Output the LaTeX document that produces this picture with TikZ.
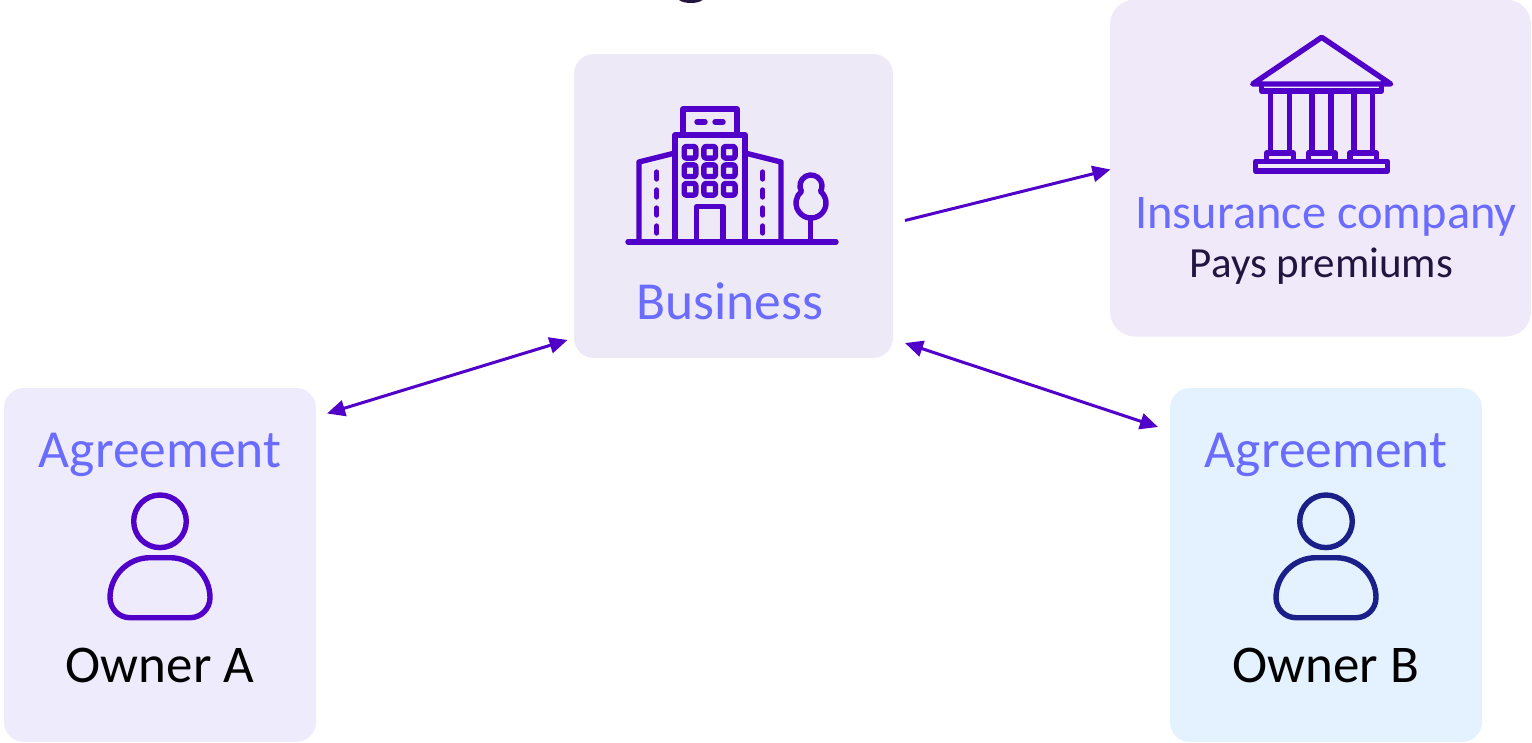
\documentclass[tikz,border=0pt]{standalone}
\usepackage{fontspec}
\setmainfont{Carlito}
\usetikzlibrary{arrows.meta}
\definecolor{icon}{HTML}{5000C8}
\definecolor{iconb}{HTML}{1B2088}
\definecolor{bizfill}{HTML}{EEE9F7}
\definecolor{insfill}{HTML}{F0E9F9}
\definecolor{afill}{HTML}{EEEBFD}
\definecolor{bfill}{HTML}{E4F1FE}
\definecolor{head}{HTML}{6A6BFF}
\definecolor{dark}{HTML}{221540}
\tikzset{
  card/.style={inner sep=0pt,outer sep=0pt,rounded corners=20pt,draw=none},
  headtxt/.style={anchor=base,text=head,font=\fontsize{53.5}{60}\selectfont,inner sep=0pt},
  instxt/.style={anchor=base,text=head,font=\fontsize{48.4}{55}\selectfont,inner sep=0pt},
  ownertxt/.style={anchor=base,text=black,font=\fontsize{53}{60}\selectfont,inner sep=0pt},
  subtxt/.style={anchor=base,text=dark,font=\fontsize{43}{50}\selectfont,inner sep=0pt},
  ic/.style={draw=#1,line width=5.4pt,line join=round,line cap=round},
  ic/.default=icon,
  flow/.style={draw=icon,line width=3pt,-{Triangle[length=18pt,width=16pt]}},
  flowboth/.style={draw=icon,line width=3pt,{Triangle[length=18pt,width=16pt]}-{Triangle[length=18pt,width=16pt]}},
}
\newcommand{\personicon}[2]{%
  \begin{scope}[shift={(#1,0)}]
    \draw[ic=#2] (160,521.3) circle[radius=26.3pt];
    \draw[ic=#2] (150,557.7) -- (170,557.7) arc[start angle=90,end angle=0,radius=40pt]
      arc[start angle=0,end angle=-90,radius=20pt] -- (130,617.7)
      arc[start angle=-90,end angle=-180,radius=20pt]
      arc[start angle=180,end angle=90,radius=40pt] -- cycle;
  \end{scope}}
\begin{document}
\begin{tikzpicture}[x=1pt,y=-1pt]
\useasboundingbox (0,0) rectangle (1532,742);
% clipped title remnant
\fill[dark] (679,0) .. controls (684,4) and (698,4) .. (702.5,0) -- cycle;
% cards
\node[card,fill=bizfill,minimum width=319pt,minimum height=304pt] (biz) at (733.5,206) {};
\node[card,fill=insfill,rounded corners=25pt,minimum width=421pt,minimum height=337pt] (ins) at (1320.5,168) {};
\node[card,fill=afill,minimum width=312pt,minimum height=354pt] (ownA) at (160,565) {};
\node[card,fill=bfill,minimum width=312pt,minimum height=354pt] (ownB) at (1326,565) {};
% texts
\node[headtxt] (tbiz) at (730,319) {Business};
\node[instxt] (tins) at (1326,228) {Insurance company};
\node[subtxt] (tpay) at (1321.5,277) {Pays premiums};
\node[headtxt] (tagA) at (160,467) {Agreement};
\node[headtxt] (tagB) at (1326,467) {Agreement};
\node[ownertxt] (tA) at (160,682) {Owner A};
\node[ownertxt] (tB) at (1326,682) {Owner B};
% building icon
\draw[ic] (628,242) -- (836,242);
\draw[ic] (675,242) -- (675,135) -- (745,135) -- (745,242);
\draw[ic] (683,135) -- (683,109) -- (737,109) -- (737,135);
\draw[ic] (697,122) -- (705,122) (715,122) -- (723,122);
\draw[ic] (675,153) -- (639,162) -- (639,242);
\draw[ic] (745,153) -- (781,162) -- (781,242);
\draw[ic] (696.7,242) -- (696.7,206.7) -- (723,206.7) -- (723,242);
\foreach \wx in {690,709.7,729.3}
  \foreach \wy in {152.3,170.7,189.3}
    \draw[ic,rounded corners=2pt] (\wx-5.8,\wy-5.8) rectangle (\wx+5.8,\wy+5.8);
\foreach \wx in {656.7,762.7}
  \foreach \wa/\wb in {172/179,190/197,208/215,226/233}
    \draw[ic] (\wx,\wa) -- (\wx,\wb);
\draw[ic] (810.7,218) -- (810.7,242);
\draw[ic] (801.4,191.4) arc[start angle=209.6,end angle=-29.6,radius=11pt]
  arc[start angle=50.5,end angle=-230.5,radius=15pt] -- cycle;
% bank icon
\draw[ic] (1321.7,37.3) -- (1252.7,84) -- (1390.7,84) -- cycle;
\draw[ic] (1261.7,84) -- (1261.7,91) -- (1381.7,91) -- (1381.7,84);
\foreach \cx in {1270.3,1289.3,1312,1331,1354,1372.7}
  \draw[ic,line cap=butt] (\cx,91) -- (\cx,153);
\foreach \cx in {1266.7,1308.3,1350}
  \draw[ic] (\cx,161) -- (\cx,153) -- (\cx+26.6,153) -- (\cx+26.6,161);
\draw[ic] (1255.7,161.5) rectangle (1387.7,171);
% people
\personicon{0}{icon}
\personicon{1166}{iconb}
% connectors
\path (biz.south east) ++(12,-137.5) coordinate (bizOut);
\path (ins.north west) ++(0.5,170) coordinate (insIn);
\path (biz.south east) ++(12,-15) coordinate (bizB);
\path (ownB.north west) ++(-12,39) coordinate (ownBIn);
\path (biz.south west) ++(-6.5,-18) coordinate (bizA);
\path (ownA.north east) ++(11,25.5) coordinate (ownAIn);
\draw[flow] (bizOut) -- (insIn);
\draw[flowboth] (bizB) -- (ownBIn);
\draw[flowboth] (ownAIn) -- (bizA);
\end{tikzpicture}
\end{document}
